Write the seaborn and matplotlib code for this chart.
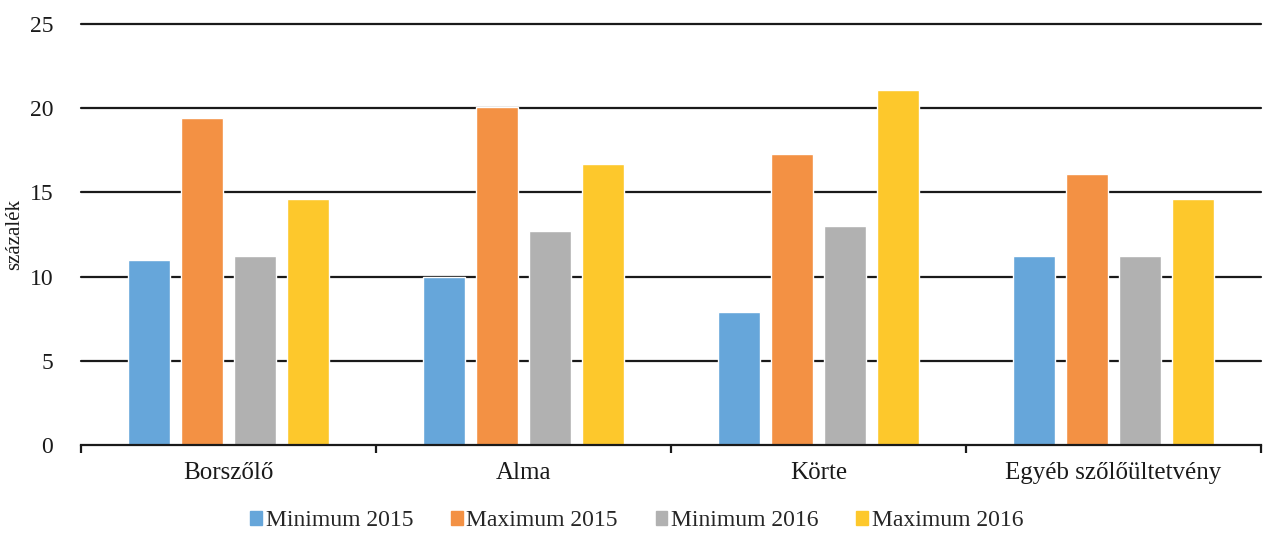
import pandas as pd
import matplotlib.pyplot as plt
import seaborn as sns
import numpy as np

# Data
categories = ['Borszőlő', 'Alma', 'Körte', 'Egyéb szőlőültetvény']
series = ['Minimum 2015', 'Maximum 2015', 'Minimum 2016', 'Maximum 2016']
min_2015 = [11.0, 10.0, 7.9, 11.2]
max_2015 = [19.4, 20.1, 17.3, 16.1]
min_2016 = [11.2, 12.7, 13.0, 11.2]
max_2016 = [14.6, 16.7, 21.1, 14.6]

df = pd.DataFrame({'Kategória': categories,
                   series[0]: min_2015, series[1]: max_2015,
                   series[2]: min_2016, series[3]: max_2016})
df_long = df.melt(id_vars='Kategória', var_name='Sorozat', value_name='Érték')

colors = ['#66A6DA', '#F39144', '#B1B1B1', '#FDC82C']

sns.set_theme(style="white")
plt.rcParams['font.family'] = ['Liberation Serif', 'DejaVu Serif']

fig = plt.figure(figsize=(12.66, 5.39), dpi=100)
ax = fig.add_axes([0.064, 0.1744, 0.932, 0.781])

sns.barplot(data=df_long, x='Kategória', y='Érték', hue='Sorozat',
            hue_order=series, palette=colors, width=0.72, gap=0.22,
            saturation=1, ax=ax, legend=False)

ax.set_ylim(0, 25)
ax.set_xlim(-0.5, len(categories) - 0.5)
ax.set_yticks(np.arange(0, 26, 5))
for v in np.arange(5, 26, 5):
    ax.axhline(v, color='#1a1a1a', linewidth=1.6, zorder=0, clip_on=False)

for s in ['top', 'right', 'left']:
    ax.spines[s].set_visible(False)
ax.spines['bottom'].set_color('#1a1a1a')
ax.spines['bottom'].set_linewidth(1.6)

ax.tick_params(axis='y', left=False, length=0, pad=20, labelsize=17, colors='#1a1a1a')
ax.tick_params(axis='x', which='major', bottom=False, length=0, pad=12, labelsize=18,
               colors='#1a1a1a')
ax.set_xticks(np.arange(-0.5, len(categories), 1.0), minor=True)
ax.tick_params(axis='x', which='minor', bottom=True, length=6, width=1.6,
               direction='out', color='#1a1a1a')

ax.set_xlabel('')
ax.set_ylabel('százalék', fontsize=15, color='#1a1a1a', labelpad=4)

handles = [plt.Rectangle((0, 0), 1, 1, color=c) for c in colors]
fig.legend(handles, series, loc='lower center', bbox_to_anchor=(0.503, -0.025),
           ncol=4, frameon=False, fontsize=17, handlelength=0.5, handleheight=0.5,
           handletextpad=0.15, columnspacing=1.6)

plt.savefig('out.png', dpi=100)
plt.close()
